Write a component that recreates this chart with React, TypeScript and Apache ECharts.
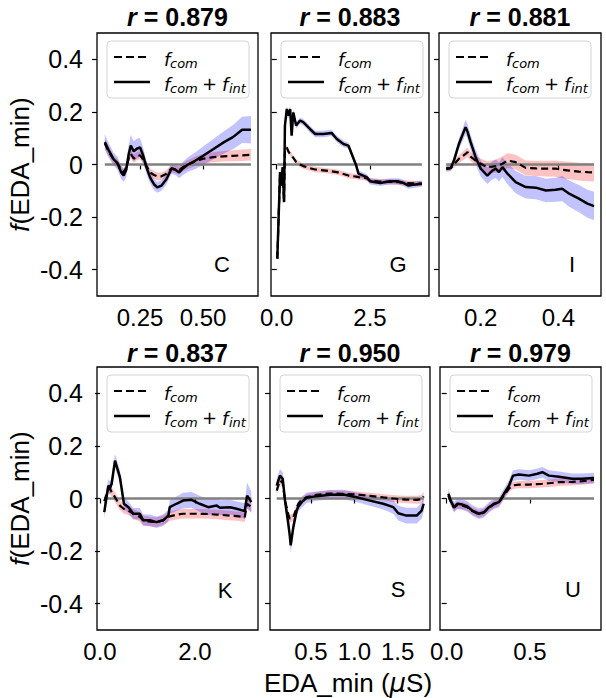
import * as echarts from "echarts";
import { useEffect, useRef } from "react";

const letters = ["C", "G", "I", "K", "S", "U"];
const rValues = ["0.879", "0.883", "0.881", "0.837", "0.950", "0.979"];
const yTicks = [-0.4, -0.2, 0, 0.2, 0.4];
const yTickLabels = ["-0.4", "-0.2", "0", "0.2", "0.4"];
const xTicks = [[0.25, 0.5], [0, 2.5], [0.2, 0.4], [0, 2], [0.5, 1, 1.5], [0, 0.5]];
const xTickLabels = [["0.25", "0.50"], ["0.0", "2.5"], ["0.2", "0.4"], ["0.0", "2.0"], ["0.5", "1.0", "1.5"], ["0.0", "0.5"]];

// panel C
const cX = [0.11, 0.125, 0.145, 0.16, 0.175, 0.185, 0.195, 0.205, 0.213, 0.225, 0.237, 0.25, 0.262, 0.275, 0.29, 0.305, 0.318, 0.335, 0.355, 0.375, 0.39, 0.405, 0.42, 0.44, 0.47, 0.5, 0.54, 0.58, 0.62, 0.655, 0.69];
const cFull = [0.085, 0.055, 0.02, 0.005, -0.03, -0.042, -0.02, 0.04, 0.072, 0.05, 0.06, 0.065, 0.035, -0.01, -0.05, -0.075, -0.087, -0.08, -0.055, -0.015, -0.02, -0.03, -0.015, 0.0, 0.015, 0.033, 0.058, 0.083, 0.105, 0.132, 0.132];
const cCom = [0.08, 0.05, 0.018, 0.005, -0.02, -0.03, -0.012, 0.025, 0.04, 0.022, 0.032, 0.035, 0.02, -0.005, -0.03, -0.04, -0.045, -0.045, -0.035, -0.015, -0.018, -0.022, -0.01, 0.0, 0.012, 0.022, 0.028, 0.031, 0.033, 0.035, 0.037];
const cFullErr = [0.03, 0.028, 0.025, 0.025, 0.025, 0.025, 0.028, 0.035, 0.04, 0.038, 0.038, 0.036, 0.03, 0.025, 0.022, 0.022, 0.02, 0.02, 0.02, 0.02, 0.02, 0.022, 0.025, 0.028, 0.032, 0.035, 0.038, 0.042, 0.046, 0.05, 0.052];
const cComErr = [0.02, 0.018, 0.015, 0.015, 0.015, 0.015, 0.015, 0.016, 0.016, 0.016, 0.016, 0.016, 0.016, 0.015, 0.015, 0.015, 0.015, 0.015, 0.015, 0.015, 0.015, 0.016, 0.016, 0.017, 0.018, 0.018, 0.019, 0.02, 0.021, 0.022, 0.022];

// panel G
const gX = [0.016, 0.09, 0.13, 0.16, 0.196, 0.22, 0.27, 0.31, 0.36, 0.4, 0.445, 0.52, 0.625, 0.71, 0.89, 1.03, 1.25, 1.47, 1.61, 1.79, 1.92, 2.01, 2.13, 2.19, 2.41, 2.5, 2.77, 3.04, 3.26, 3.39, 3.53, 3.66, 3.89];
const gFull = [-0.358, -0.029, -0.08, -0.01, -0.143, 0.148, 0.211, 0.186, 0.211, 0.11, 0.198, 0.148, 0.167, 0.161, 0.135, 0.116, 0.116, 0.12, 0.097, 0.078, 0.072, 0.04, -0.004, -0.035, -0.048, -0.064, -0.07, -0.064, -0.064, -0.07, -0.08, -0.077, -0.073];
const gCom = [-0.358, -0.029, -0.08, -0.01, -0.143, 0.05, 0.066, 0.05, 0.04, 0.034, 0.025, 0.01, 0.0, -0.006, -0.014, -0.019, -0.022, -0.026, -0.029, -0.036, -0.042, -0.044, -0.046, -0.048, -0.052, -0.061, -0.065, -0.066, -0.067, -0.07, -0.071, -0.072, -0.073];
const gFullErr = [0.015, 0.015, 0.015, 0.015, 0.015, 0.012, 0.012, 0.012, 0.012, 0.012, 0.012, 0.012, 0.012, 0.012, 0.012, 0.012, 0.012, 0.012, 0.012, 0.012, 0.012, 0.012, 0.012, 0.012, 0.012, 0.012, 0.012, 0.012, 0.012, 0.012, 0.012, 0.012, 0.012];
const gComErr = [0.01, 0.01, 0.01, 0.01, 0.01, 0.01, 0.01, 0.01, 0.01, 0.01, 0.01, 0.01, 0.01, 0.01, 0.01, 0.01, 0.01, 0.01, 0.01, 0.01, 0.01, 0.01, 0.01, 0.01, 0.01, 0.01, 0.01, 0.01, 0.01, 0.01, 0.01, 0.01, 0.01];

// panel I
const iX = [0.111, 0.123, 0.131, 0.144, 0.161, 0.166, 0.174, 0.187, 0.2, 0.217, 0.23, 0.239, 0.247, 0.256, 0.269, 0.29, 0.316, 0.342, 0.368, 0.393, 0.41, 0.428, 0.453, 0.475, 0.492];
const iFull = [-0.016, -0.013, 0.015, 0.079, 0.142, 0.125, 0.085, 0.028, -0.016, -0.042, -0.023, -0.016, -0.029, -0.01, -0.035, -0.067, -0.086, -0.088, -0.099, -0.096, -0.092, -0.111, -0.13, -0.149, -0.158];
const iCom = [-0.016, -0.013, 0.0, 0.022, 0.04, 0.047, 0.03, 0.015, 0.003, -0.01, -0.008, -0.006, -0.002, 0.003, 0.015, 0.009, -0.013, -0.015, -0.016, -0.016, -0.02, -0.023, -0.027, -0.029, -0.03];
const iFullErr = [0.012, 0.012, 0.015, 0.02, 0.028, 0.028, 0.028, 0.028, 0.03, 0.032, 0.034, 0.035, 0.036, 0.038, 0.04, 0.042, 0.043, 0.044, 0.045, 0.046, 0.048, 0.05, 0.052, 0.053, 0.054];
const iComErr = [0.01, 0.01, 0.012, 0.015, 0.018, 0.018, 0.018, 0.018, 0.02, 0.022, 0.024, 0.025, 0.026, 0.027, 0.028, 0.028, 0.028, 0.029, 0.03, 0.031, 0.032, 0.033, 0.034, 0.035, 0.035];

// panel K
const kX = [0.09, 0.175, 0.21, 0.246, 0.316, 0.42, 0.505, 0.6, 0.7, 0.84, 0.91, 1.05, 1.19, 1.33, 1.44, 1.47, 1.61, 1.75, 1.93, 2.1, 2.28, 2.46, 2.53, 2.74, 2.88, 3.05, 3.1, 3.19];
const kFull = [-0.052, 0.049, 0.04, 0.056, 0.144, 0.081, -0.02, -0.033, -0.058, -0.058, -0.083, -0.083, -0.09, -0.083, -0.065, -0.033, -0.02, -0.008, -0.005, -0.02, -0.033, -0.027, -0.035, -0.033, -0.039, -0.048, 0.011, -0.014];
const kCom = [-0.01, 0.035, 0.037, 0.025, 0.005, -0.027, -0.04, -0.046, -0.058, -0.07, -0.083, -0.088, -0.09, -0.083, -0.07, -0.068, -0.062, -0.058, -0.058, -0.058, -0.059, -0.061, -0.062, -0.065, -0.067, -0.071, -0.02, -0.033];
const kFullErr = [0.025, 0.025, 0.025, 0.025, 0.025, 0.025, 0.022, 0.022, 0.022, 0.022, 0.022, 0.022, 0.022, 0.022, 0.022, 0.025, 0.028, 0.03, 0.03, 0.03, 0.03, 0.028, 0.028, 0.028, 0.028, 0.03, 0.05, 0.04];
const kComErr = [0.018, 0.018, 0.018, 0.018, 0.018, 0.018, 0.018, 0.018, 0.018, 0.018, 0.018, 0.018, 0.018, 0.018, 0.018, 0.018, 0.018, 0.018, 0.018, 0.018, 0.018, 0.018, 0.018, 0.018, 0.018, 0.018, 0.018, 0.018];

// panel S
const sX = [0.104, 0.142, 0.174, 0.2, 0.238, 0.255, 0.266, 0.296, 0.335, 0.355, 0.393, 0.45, 0.566, 0.72, 0.873, 1.027, 1.18, 1.334, 1.45, 1.507, 1.6, 1.72, 1.777, 1.8];
const sFull = [0.049, 0.087, 0.075, -0.008, -0.096, -0.14, -0.178, -0.109, -0.046, -0.03, -0.014, 0.003, 0.009, 0.014, 0.015, 0.005, -0.008, -0.02, -0.033, -0.056, -0.065, -0.065, -0.046, -0.02];
const sCom = [0.03, 0.068, 0.06, -0.008, -0.06, -0.077, -0.075, -0.071, -0.035, -0.02, -0.005, 0.005, 0.014, 0.019, 0.018, 0.015, 0.01, 0.004, 0.0, -0.002, -0.004, -0.005, -0.003, 0.008];
const sFullErr = [0.025, 0.025, 0.025, 0.025, 0.025, 0.025, 0.03, 0.025, 0.02, 0.02, 0.02, 0.02, 0.018, 0.018, 0.018, 0.018, 0.02, 0.022, 0.025, 0.028, 0.03, 0.03, 0.03, 0.03];
const sComErr = [0.018, 0.015, 0.015, 0.015, 0.015, 0.015, 0.015, 0.015, 0.013, 0.013, 0.012, 0.012, 0.012, 0.012, 0.012, 0.012, 0.012, 0.012, 0.013, 0.013, 0.014, 0.015, 0.016, 0.018];

// panel U
const uX = [0.01, 0.024, 0.044, 0.064, 0.094, 0.124, 0.154, 0.194, 0.224, 0.254, 0.284, 0.314, 0.344, 0.374, 0.398, 0.434, 0.494, 0.544, 0.574, 0.614, 0.674, 0.754, 0.814, 0.884];
const uFull = [0.018, -0.008, -0.033, -0.02, -0.023, -0.03, -0.046, -0.058, -0.052, -0.033, -0.02, -0.014, 0.018, 0.049, 0.087, 0.091, 0.087, 0.094, 0.1, 0.087, 0.083, 0.075, 0.075, 0.078];
const uCom = [0.01, -0.01, -0.035, -0.025, -0.027, -0.033, -0.048, -0.06, -0.053, -0.035, -0.022, -0.014, 0.012, 0.038, 0.05, 0.053, 0.053, 0.055, 0.056, 0.058, 0.062, 0.063, 0.066, 0.071];
const uFullErr = [0.02, 0.02, 0.02, 0.02, 0.02, 0.02, 0.02, 0.02, 0.02, 0.02, 0.02, 0.02, 0.02, 0.02, 0.02, 0.02, 0.02, 0.02, 0.02, 0.02, 0.02, 0.02, 0.02, 0.02];
const uComErr = [0.014, 0.014, 0.014, 0.014, 0.014, 0.014, 0.014, 0.014, 0.014, 0.014, 0.014, 0.014, 0.014, 0.014, 0.014, 0.014, 0.014, 0.014, 0.014, 0.014, 0.014, 0.014, 0.014, 0.014];

const panels = [
  { x: cX, full: cFull, com: cCom, fullErr: cFullErr, comErr: cComErr },
  { x: gX, full: gFull, com: gCom, fullErr: gFullErr, comErr: gComErr },
  { x: iX, full: iFull, com: iCom, fullErr: iFullErr, comErr: iComErr },
  { x: kX, full: kFull, com: kCom, fullErr: kFullErr, comErr: kComErr },
  { x: sX, full: sFull, com: sCom, fullErr: sFullErr, comErr: sComErr },
  { x: uX, full: uFull, com: uCom, fullErr: uFullErr, comErr: uComErr },
];

// layout in pixels
const frames = [
  { left: 97, top: 33, width: 161, height: 263, xMin: 0.079, xMax: 0.718, lx: 222, ly: 264 },
  { left: 271, top: 33, width: 158, height: 263, xMin: -0.153, xMax: 4.08, lx: 398, ly: 264 },
  { left: 439, top: 33, width: 162, height: 263, xMin: 0.0925, xMax: 0.51, lx: 572, ly: 264 },
  { left: 97, top: 367, width: 161, height: 263, xMin: -0.063, xMax: 3.33, lx: 225, ly: 590 },
  { left: 270, top: 367, width: 160, height: 263, xMin: 0.027, xMax: 1.873, lx: 398, ly: 589 },
  { left: 440, top: 367, width: 161, height: 263, xMin: -0.04, xMax: 0.926, lx: 573, ly: 589 },
];

const SANS = "Liberation Sans";
const MATH = "DejaVu Sans";

function band(i: number, xs: number[], mid: number[], err: number[], fill: string) {
  return {
    type: "custom",
    xAxisIndex: i,
    yAxisIndex: i,
    data: [[xs[0], mid[0]]],
    encode: { x: 0, y: 1 },
    clip: true,
    silent: true,
    renderItem: (_params: any, api: any) => {
      const upper = xs.map((x, k) => api.coord([x, mid[k] + err[k]]));
      const lower = xs.map((x, k) => api.coord([x, mid[k] - err[k]])).reverse();
      return { type: "polygon", shape: { points: upper.concat(lower) }, style: { fill } };
    },
  };
}

function txt(text: string, x: number, y: number, size: number, italic: boolean, family = MATH) {
  return {
    type: "text",
    x,
    y,
    style: {
      text,
      fontSize: size,
      fontFamily: family,
      fontStyle: italic ? "italic" : "normal",
      fill: "#000",
      align: "left",
      verticalAlign: "middle",
    },
  };
}

function legend(x: number, y: number) {
  return {
    type: "group",
    x,
    y,
    z: 100,
    children: [
      { type: "rect", shape: { x: 0, y: 0, width: 142, height: 57, r: 4 }, style: { fill: "rgba(255,255,255,0.8)", stroke: "#d4d4d4", lineWidth: 1 } },
      { type: "line", shape: { x1: 7, y1: 16, x2: 43, y2: 16 }, style: { stroke: "#000", lineWidth: 2.2, lineDash: [8, 4] } },
      { type: "line", shape: { x1: 7, y1: 41, x2: 43, y2: 41 }, style: { stroke: "#000", lineWidth: 2.5 } },
      txt("f", 57, 18, 18, true),
      txt("com", 63, 22, 13, true),
      txt("f", 57, 43, 18, true),
      txt("com", 63, 47, 13, true),
      txt("+", 95, 42, 18, false),
      txt("f", 115, 43, 18, true),
      txt("int", 122, 47, 13, true),
    ],
  };
}

export default function App() {
  const chartRef = useRef<HTMLDivElement>(null);

  useEffect(() => {
    if (!chartRef.current) return;
    document.body.style.margin = "0";
    const chart = echarts.init(chartRef.current, null, { renderer: "svg" });

    const series: any[] = [];
    panels.forEach((d, i) => {
      series.push(band(i, d.x, d.com, d.comErr, "rgba(255,0,0,0.24)"));
      series.push(band(i, d.x, d.full, d.fullErr, "rgba(0,0,255,0.24)"));
      series.push({
        type: "line",
        xAxisIndex: i,
        yAxisIndex: i,
        data: [[d.x[0], 0], [d.x[d.x.length - 1], 0]],
        symbol: "none",
        silent: true,
        lineStyle: { color: "#808080", width: 2.5 },
      });
      series.push({
        type: "line",
        xAxisIndex: i,
        yAxisIndex: i,
        data: d.x.map((x, k) => [x, d.com[k]]),
        symbol: "none",
        silent: true,
        lineStyle: { color: "#000", width: 2.2, type: [7, 4] },
      });
      series.push({
        type: "line",
        xAxisIndex: i,
        yAxisIndex: i,
        data: d.x.map((x, k) => [x, d.full[k]]),
        symbol: "none",
        silent: true,
        lineStyle: { color: "#000", width: 2.5 },
      });
    });

    const graphics: any[] = [];
    frames.forEach((f, i) => {
      graphics.push({
        type: "text",
        x: f.left + f.width / 2,
        y: i < 3 ? 17 : 353,
        style: {
          text: "{i|r}{b| = " + rValues[i] + "}",
          align: "center",
          verticalAlign: "middle",
          rich: {
            i: { fontSize: 25, fontWeight: "bold", fontStyle: "italic", fontFamily: SANS, fill: "#000" },
            b: { fontSize: 25, fontWeight: "bold", fontFamily: SANS, fill: "#000" },
          },
        },
      });
      graphics.push({
        type: "text",
        x: f.lx,
        y: f.ly,
        style: { text: letters[i], fontSize: 22, fontFamily: SANS, fill: "#000", align: "center", verticalAlign: "middle" },
      });
      graphics.push(legend(f.left + 10, f.top + 8));
    });
    graphics.push({
      type: "text",
      x: 348,
      y: 683,
      style: {
        text: "EDA_min ({i|μ}S)",
        fontSize: 26,
        fontFamily: SANS,
        fill: "#000",
        align: "center",
        verticalAlign: "middle",
        rich: { i: { fontSize: 26, fontStyle: "italic", fontFamily: MATH, fill: "#000" } },
      },
    });

    chart.setOption({
      animation: false,
      grid: frames.map((f) => ({
        left: f.left,
        top: f.top,
        width: f.width,
        height: f.height,
        show: true,
        borderColor: "#000",
        borderWidth: 1.3,
        backgroundColor: "transparent",
      })),
      xAxis: frames.map((f, i) => ({
        gridIndex: i,
        type: "value",
        min: f.xMin,
        max: f.xMax,
        axisLine: { show: false },
        splitLine: { show: false },
        axisTick: { show: true, length: 5, lineStyle: { color: "#000", width: 1.2 }, customValues: xTicks[i] },
        axisLabel: {
          customValues: xTicks[i],
          formatter: (v: number) => xTickLabels[i][xTicks[i].indexOf(v)] ?? String(v),
          fontSize: 24,
          fontFamily: SANS,
          color: "#000",
          margin: 9,
        },
      })),
      yAxis: frames.map((_f, i) => ({
        gridIndex: i,
        type: "value",
        min: -0.5,
        max: 0.5,
        axisLine: { show: false },
        splitLine: { show: false },
        axisTick: { show: true, length: 5, lineStyle: { color: "#000", width: 1.2 }, customValues: yTicks },
        axisLabel: {
          show: i % 3 === 0,
          customValues: yTicks,
          formatter: (v: number) => yTickLabels[yTicks.indexOf(v)] ?? String(v),
          fontSize: 25,
          fontFamily: SANS,
          color: "#000",
          margin: 14,
        },
        name: i % 3 === 0 ? "{i|f}(EDA_min)" : "",
        nameLocation: "middle",
        nameRotate: 90,
        nameGap: 64,
        nameTextStyle: {
          fontSize: 26,
          fontFamily: SANS,
          color: "#000",
          rich: { i: { fontSize: 26, fontStyle: "italic", fontFamily: SANS, color: "#000" } },
        },
      })),
      series,
      graphic: graphics,
    });

    return () => {
      chart.dispose();
    };
  }, []);

  return <div ref={chartRef} style={{ width: 606, height: 698 }} />;
}
